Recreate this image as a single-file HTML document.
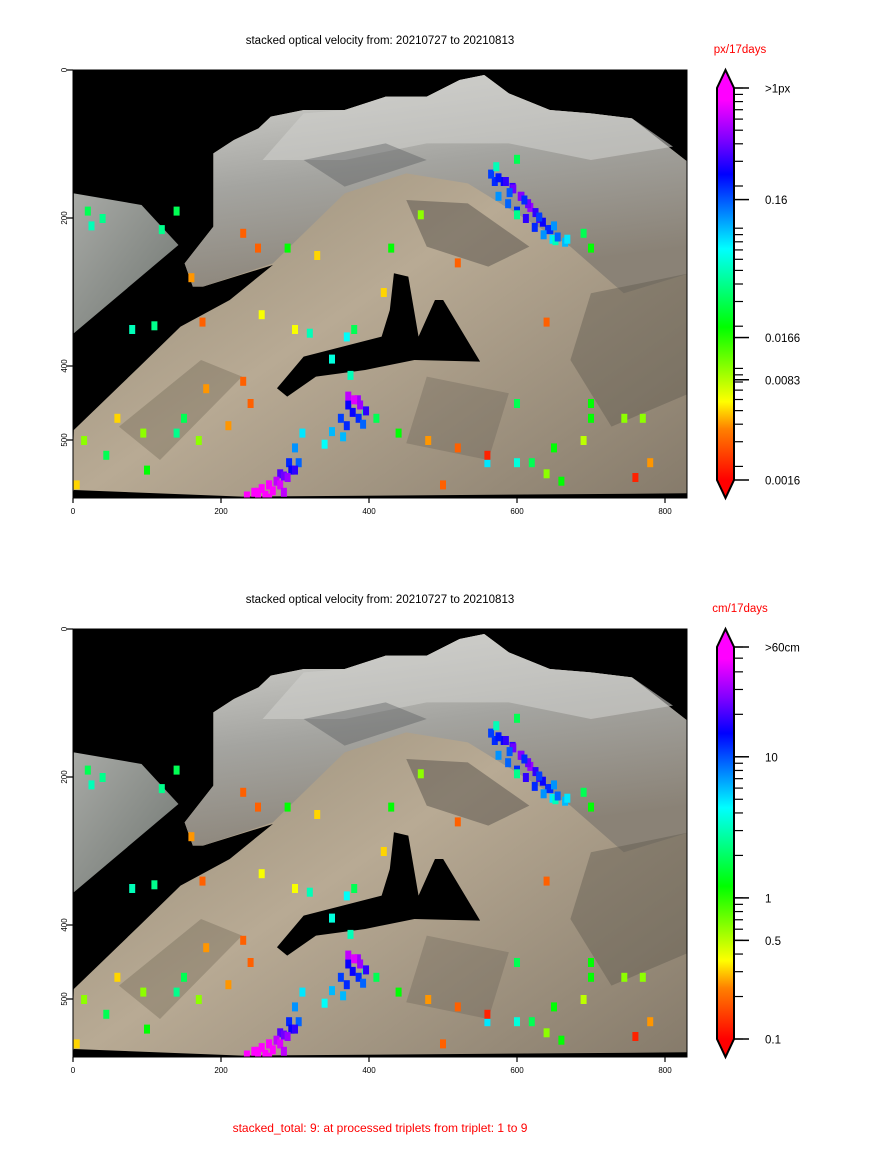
<!DOCTYPE html>
<html><head><meta charset="utf-8"><style>
html,body{margin:0;padding:0;background:#fff}
svg{display:block;font-family:"Liberation Sans","DejaVu Sans",sans-serif}
</style></head><body>
<svg id="fig" width="869" height="1169" viewBox="0 0 869 1169">
<defs>
<linearGradient id="snow" x1="0" y1="0" x2="0.3" y2="1">
<stop offset="0" stop-color="#d6d6d2"/><stop offset="0.5" stop-color="#a4a4a0"/><stop offset="1" stop-color="#8a8276"/>
</linearGradient>
<linearGradient id="slope" x1="0" y1="0" x2="1" y2="1">
<stop offset="0" stop-color="#8a806c"/><stop offset="0.5" stop-color="#b8aa94"/><stop offset="1" stop-color="#857a6a"/>
</linearGradient>
<linearGradient id="leftp" x1="0" y1="0" x2="1" y2="1">
<stop offset="0" stop-color="#a8aaa6"/><stop offset="1" stop-color="#6f7570"/>
</linearGradient>
<linearGradient id="cb" x1="0" y1="1" x2="0" y2="0">
<stop offset="0" stop-color="#ff0000"/><stop offset="0.13" stop-color="#ff8000"/><stop offset="0.20" stop-color="#ffff00"/>
<stop offset="0.39" stop-color="#00ff00"/><stop offset="0.59" stop-color="#00ffff"/><stop offset="0.78" stop-color="#0000ff"/>
<stop offset="0.87" stop-color="#8000ff"/><stop offset="0.97" stop-color="#ff00ff"/><stop offset="1" stop-color="#ff00ff"/>
</linearGradient>
</defs>
</svg>
<script>
// marker data: x (data units), y (data units), velocity (px/17days)
const ptX = [570,582,594,606,618,630,642,575,588,600,612,624,636,648,600,652,690,700,470,230,290,330,250,160,120,140,420,430,20,25,40,300,320,175,255,80,110,370,350,380,520,600,640,700,745,780,560,600,620,650,15,45,60,100,140,150,170,210,240,250,265,280,292,300,310,385,372,362,350,375,340,395,410,440,480,520,560,600,700,770,760,5,500,95,180,230,640,660,690,
 565,575,585,595,605,615,625,635,645,655,665,572,590,610,630,650,668,
 235,245,255,265,275,285,295,305,250,260,270,280,290,300,265,285,
 372,380,388,396,378,386,392,370,365];
const ptY = [150,150,158,170,185,200,215,170,180,190,200,212,222,228,120,230,220,240,195,220,240,250,240,280,215,190,300,240,190,210,200,350,355,340,330,350,345,360,390,350,260,195,340,450,470,530,530,530,530,510,500,520,470,540,490,470,500,480,450,570,560,545,530,510,490,445,452,470,488,412,505,460,470,490,500,510,520,450,470,470,550,560,560,490,430,420,545,555,500,
 140,145,150,160,170,180,192,205,215,225,232,130,165,175,198,210,228,
 575,570,565,560,555,548,540,530,578,574,568,560,550,540,578,570,
 440,445,452,460,462,470,478,480,495];
const ptV = [0.2,0.25,0.3,0.4,0.5,0.35,0.2,0.12,0.15,0.2,0.3,0.2,0.12,0.08,0.03,0.05,0.03,0.02,0.01,0.003,0.02,0.005,0.003,0.004,0.04,0.03,0.005,0.02,0.03,0.05,0.04,0.006,0.05,0.003,0.006,0.05,0.04,0.07,0.06,0.03,0.003,0.04,0.003,0.02,0.01,0.004,0.08,0.06,0.03,0.02,0.01,0.03,0.005,0.02,0.04,0.03,0.01,0.004,0.003,1.0,0.8,0.35,0.2,0.12,0.08,0.5,0.25,0.18,0.1,0.05,0.07,0.04,0.03,0.02,0.004,0.003,0.002,0.03,0.02,0.01,0.002,0.005,0.003,0.01,0.004,0.003,0.01,0.02,0.008,
 0.18,0.22,0.3,0.4,0.45,0.4,0.3,0.25,0.2,0.15,0.1,0.05,0.16,0.2,0.18,0.12,0.08,
 1,1,0.9,0.8,0.6,0.4,0.25,0.15,1,1,0.9,0.7,0.5,0.3,0.9,0.6,
 0.6,0.7,0.5,0.3,0.25,0.2,0.15,0.2,0.1];
const cbTicksTop = ["0.0016","0.0083","0.0166","0.16",">1px"];
const cbTickValsTop = [0.0016,0.0083,0.0166,0.16,1];
const cbTicksBot = ["0.1","0.5","1","10",">60cm"];
const cbTickValsBot = [0.1,0.5,1,10,60];
const xTicks = [0,200,400,600,800];
const yTicks = [0,200,400,500];

const NS="http://www.w3.org/2000/svg";
const svg=document.getElementById('fig');
function mk(tag,attrs,parent){const e=document.createElementNS(NS,tag);for(const k in attrs)e.setAttribute(k,attrs[k]);(parent||svg).appendChild(e);return e;}
const stops=[[0,[255,0,0]],[0.13,[255,128,0]],[0.20,[255,255,0]],[0.39,[0,255,0]],[0.59,[0,255,255]],[0.78,[0,0,255]],[0.87,[128,0,255]],[0.97,[255,0,255]],[1,[255,0,255]]];
function cmap(t){t=Math.max(0,Math.min(1,t));for(let i=1;i<stops.length;i++){if(t<=stops[i][0]){const a=stops[i-1],b=stops[i];const f=(t-a[0])/(b[0]-a[0]);const c=a[1].map((v,j)=>Math.round(v+(b[1][j]-v)*f));return `rgb(${c})`;}}return 'rgb(255,0,255)';}
const vmin=0.0016,vmax=1;
function tNorm(v){return (Math.log10(v)-Math.log10(vmin))/(Math.log10(vmax)-Math.log10(vmin));}

function panel(oy,title,unit,ticks,tickVals,lo,hi,idx){
  const ax0=73,ax1=687,ay0=oy,ay1=oy+428,sc=0.74;
  const xs=v=>ax0+v*sc, ys=v=>ay0+v*sc;
  const g=mk('g',{});
  
  
  const t=mk('text',{x:380,y:oy-26,'font-size':11.5,'text-anchor':'middle',fill:'#000'},g);t.textContent=title;
  
  const bg=mk('rect',{x:ax0,y:ay0,width:ax1-ax0,height:ay1-ay0,fill:'#000'},g);
  
  const cp=mk('clipPath',{id:'clip'+idx},g);mk('rect',{x:ax0,y:ay0,width:ax1-ax0,height:ay1-ay0},cp);
  const img=mk('g',{'clip-path':`url(#clip${idx})`},g);
  
  const tr=mk('g',{transform:`translate(57.4,${oy-10}) scale(0.4104,0.3333)`},img);
  mk('polygon',{points:'40,400 205,435 295,555 40,820',fill:'url(#leftp)'},tr);
  mk('polygon',{points:'35,1320 40,1110 200,920 300,800 420,720 525,615 355,680 330,680 310,610 380,500 380,280 430,240 490,205 520,170 600,150 700,150 800,110 900,110 980,60 1040,45 1100,100 1200,150 1300,160 1400,175 1540,310 1540,1320',fill:'url(#slope)'},tr);
  mk('polygon',{points:'310,610 380,500 380,280 430,240 490,205 520,170 600,150 700,150 800,110 900,110 980,60 1040,45 1100,100 1200,150 1300,160 1400,175 1540,310 1540,640 1380,700 1250,560 1000,370 850,340 700,400 525,610 355,680 330,680',fill:'url(#snow)'},tr);
  mk('polygon',{points:'600,160 700,150 800,110 900,110 980,60 1040,45 1100,100 1200,150 1300,160 1400,175 1500,260 1300,300 1100,250 900,250 700,300 500,300',fill:'#cfcfcb',opacity:0.6},tr);
  // darker texture patches
  mk('polygon',{points:'850,420 1000,430 1150,560 1050,620 900,560',fill:'#4e4a44',opacity:0.45},tr);
  mk('polygon',{points:'600,300 800,250 900,300 700,380',fill:'#55585a',opacity:0.4},tr);
  mk('polygon',{points:'1300,700 1540,640 1540,1000 1350,1100 1250,900',fill:'#5a544c',opacity:0.4},tr);
  mk('polygon',{points:'150,1100 350,900 450,950 250,1200',fill:'#6a6050',opacity:0.35},tr);
  mk('polygon',{points:'900,950 1100,1000 1050,1200 850,1150',fill:'#60584e',opacity:0.3},tr);
  mk('polygon',{points:'820,640 855,650 880,830 920,720 940,720 1030,905 870,900 750,930 630,950 560,1010 535,985 600,890 790,830 810,750',fill:'#000'},tr);
  mk('polygon',{points:'40,1290 450,1310 1540,1300 1540,1320 35,1320',fill:'#000'},tr);
  for(let i=0;i<ptX.length;i++){
    const r=mk('rect',{x:xs(ptX[i])-3,y:ys(ptY[i])-4,width:6,height:9,fill:cmap(tNorm(ptV[i]))},img);
    
    
  }
  mk('rect',{x:ax0,y:ay0,width:ax1-ax0,height:ay1-ay0,fill:'none',stroke:'#000','stroke-width':1},g);
  xTicks.forEach(v=>{const x=xs(v);mk('line',{x1:x,y1:ay1,x2:x,y2:ay1+5,stroke:'#000','stroke-width':1.2},g);
    const l=mk('text',{x:x,y:ay1+16,'font-size':8,'text-anchor':'middle'},g);l.textContent=v;
    });
  yTicks.forEach(v=>{const y=ys(v);mk('line',{x1:ax0-6,y1:y,x2:ax0,y2:y,stroke:'#000','stroke-width':1.2},g);
    const l=mk('text',{x:0,y:0,'font-size':8,'text-anchor':'middle',transform:`translate(67,${y}) rotate(-90)`},g);l.textContent=v;
    });
  // colorbar
  const cx0=717,cx1=734,cb0=oy+18,cb1=oy+410;
  const cbg=mk('g',{},g);
  
  const mid=(cx0+cx1)/2;
  mk('polygon',{points:`${cx0},${cb0} ${mid},${oy} ${cx1},${cb0}`,fill:'#ff00ff'},cbg);
  mk('polygon',{points:`${cx0},${cb1} ${mid},${oy+428} ${cx1},${cb1}`,fill:'#ff0000'},cbg);
  mk('rect',{x:cx0,y:cb0,width:cx1-cx0,height:cb1-cb0,fill:'url(#cb)'},cbg);
  mk('polygon',{points:`${cx0},${cb1} ${cx0},${cb0} ${mid},${oy} ${cx1},${cb0} ${cx1},${cb1} ${mid},${oy+428}`,fill:'none',stroke:'#000','stroke-width':2},cbg);
  const cy=v=>cb1-(Math.log10(v)-Math.log10(lo))/(Math.log10(hi)-Math.log10(lo))*(cb1-cb0);
  for(let e=-4;e<=2;e++)for(let m=1;m<10;m++){const v=m*Math.pow(10,e);if(v<lo*0.999||v>hi*1.001)continue;const y=cy(v);
    mk('line',{x1:cx1,y1:y,x2:cx1+9,y2:y,stroke:'#000','stroke-width':1.2},cbg);}
  tickVals.forEach((v,i)=>{const y=cy(v);mk('line',{x1:cx1,y1:y,x2:cx1+15,y2:y,stroke:'#000','stroke-width':1.5},cbg);
    const l=mk('text',{x:765,y:y+4.5,'font-size':11.5},cbg);l.textContent=ticks[i];
    });
  const u=mk('text',{x:740,y:oy-17,'font-size':11.5,'text-anchor':'middle',fill:'#ff0000'},g);u.textContent=unit;
  
}
panel(70,'stacked optical velocity from: 20210727 to 20210813','px/17days',cbTicksTop,cbTickValsTop,0.0016,1,1);
panel(629,'stacked optical velocity from: 20210727 to 20210813','cm/17days',cbTicksBot,cbTickValsBot,0.1,60,2);
const ft=mk('text',{x:380,y:1132,'font-size':12,'text-anchor':'middle',fill:'#ff0000'});
ft.textContent='stacked_total: 9: at processed triplets from triplet: 1 to 9';


</script>
</body></html>
